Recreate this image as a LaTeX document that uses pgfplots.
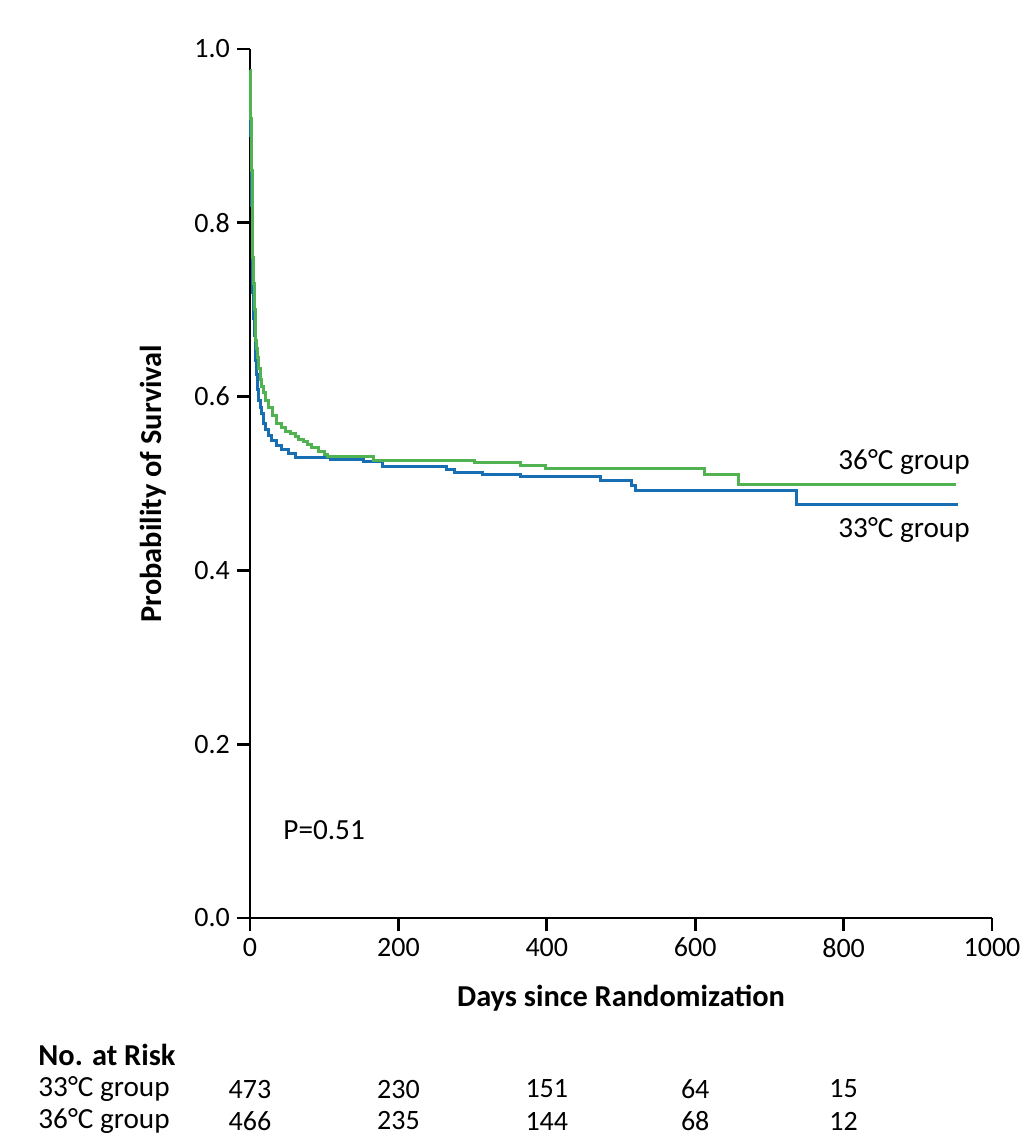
\documentclass[border=0pt]{standalone}
\usepackage{pgfplots}
\pgfplotsset{compat=1.18}
\usepackage{fontspec}
\setmainfont{Carlito}

\definecolor{grpblue}{RGB}{24,110,178}
\definecolor{grpgreen}{RGB}{80,178,80}

\begin{document}
\begin{tikzpicture}
\useasboundingbox (-125pt,-113.5pt) rectangle (391pt,459pt);
\begin{axis}[
    at={(0,0)}, anchor=south west,
    scale only axis,
    width=371pt, height=434.5pt,
    xmin=0, xmax=1000, ymin=0, ymax=1,
    axis lines*=left,
    axis line style={line width=1.4pt, -},
    tick align=outside,
    major tick length=6.5pt,
    tick style={line width=1.4pt, black},
    xtick={0,200,400,600,800,1000},
    ytick={0,0.2,0.4,0.6,0.8,1.0},
    yticklabel style={/pgf/number format/fixed, /pgf/number format/precision=1, /pgf/number format/fixed zerofill},
    /pgf/number format/assume math mode=true,
    /pgf/number format/1000 sep={},
    tick label style={font=\fontsize{14}{16}\selectfont},
    xlabel={Days since Randomization},
    ylabel={Probability of Survival},
    every axis x label/.style={at={(axis description cs:0.5,-0.0921)}, anchor=center, font=\fontsize{15.2}{17}\selectfont\bfseries},
    every axis y label/.style={at={(axis description cs:-0.1307,0.5)}, rotate=90, anchor=center, font=\fontsize{15.2}{17}\selectfont\bfseries},
    clip=false,
]
% 33 C group
\addplot[const plot, color=grpblue, line width=1.5pt] coordinates {
(0,0.975)(0.5,0.94)(1,0.90)(2,0.82)(3,0.76)(4,0.72)(5,0.69)(6,0.67)(7,0.655)(8,0.642)
(9,0.625)(10,0.608)(12,0.595)(13.5,0.588)(15,0.580)(18,0.569)(21,0.562)(25,0.555)
(29,0.550)(36,0.544)(43,0.539)(52,0.534)(61,0.530)(108,0.528)(153,0.525)(178,0.520)
(265,0.516)(276,0.513)(313,0.5105)(365,0.508)(473,0.503)(513.5,0.498)(520,0.4925)
(736,0.4764)(954,0.4764)
};
% 36 C group
\addplot[const plot, color=grpgreen, line width=1.5pt] coordinates {
(0,0.975)(0.5,0.95)(1,0.92)(2,0.86)(3,0.80)(4,0.76)(5,0.73)(6,0.70)(7,0.68)(8,0.665)
(9,0.655)(10,0.645)(12,0.632)(14,0.62)(16,0.612)(18,0.605)(21,0.596)(25,0.588)
(30,0.578)(36,0.569)(42,0.564)(48,0.560)(55,0.557)(61,0.554)(66,0.551)(72,0.548)
(78,0.545)(83,0.542)(92,0.537)(101,0.533)(104,0.531)(166,0.527)(302,0.524)
(364,0.521)(398.5,0.5175)(612,0.510)(658,0.499)(951,0.499)
};
\node[anchor=east, inner sep=0pt, font=\fontsize{14.6}{17}\selectfont] at (axis cs:970.4,0.5247) {36°C group};
\node[anchor=east, inner sep=0pt, font=\fontsize{14.6}{17}\selectfont] at (axis cs:970.4,0.4465) {33°C group};
\node[anchor=west, inner sep=0pt, font=\fontsize{14.6}{17}\selectfont] at (axis cs:44.5,0.1013) {P=0.51};
% number at risk
\node[anchor=west, inner sep=0pt, font=\fontsize{15.2}{17}\selectfont\bfseries] at (axis cs:-285.7,-0.1577) {No. at Risk};
\node[anchor=west, inner sep=0pt, font=\fontsize{14.6}{17}\selectfont] at (axis cs:-285.7,-0.1968) {33°C group};
\node[anchor=west, inner sep=0pt, font=\fontsize{14.6}{17}\selectfont] at (axis cs:-285.7,-0.2336) {36°C group};
\node[font=\fontsize{14}{16}\selectfont] at (axis cs:0,-0.1968) {473};
\node[font=\fontsize{14}{16}\selectfont] at (axis cs:200,-0.1968) {230};
\node[font=\fontsize{14}{16}\selectfont] at (axis cs:400,-0.1968) {151};
\node[font=\fontsize{14}{16}\selectfont] at (axis cs:600,-0.1968) {64};
\node[font=\fontsize{14}{16}\selectfont] at (axis cs:800,-0.1968) {15};
\node[font=\fontsize{14}{16}\selectfont] at (axis cs:0,-0.2336) {466};
\node[font=\fontsize{14}{16}\selectfont] at (axis cs:200,-0.2336) {235};
\node[font=\fontsize{14}{16}\selectfont] at (axis cs:400,-0.2336) {144};
\node[font=\fontsize{14}{16}\selectfont] at (axis cs:600,-0.2336) {68};
\node[font=\fontsize{14}{16}\selectfont] at (axis cs:800,-0.2336) {12};
\end{axis}
\end{tikzpicture}
\end{document}
